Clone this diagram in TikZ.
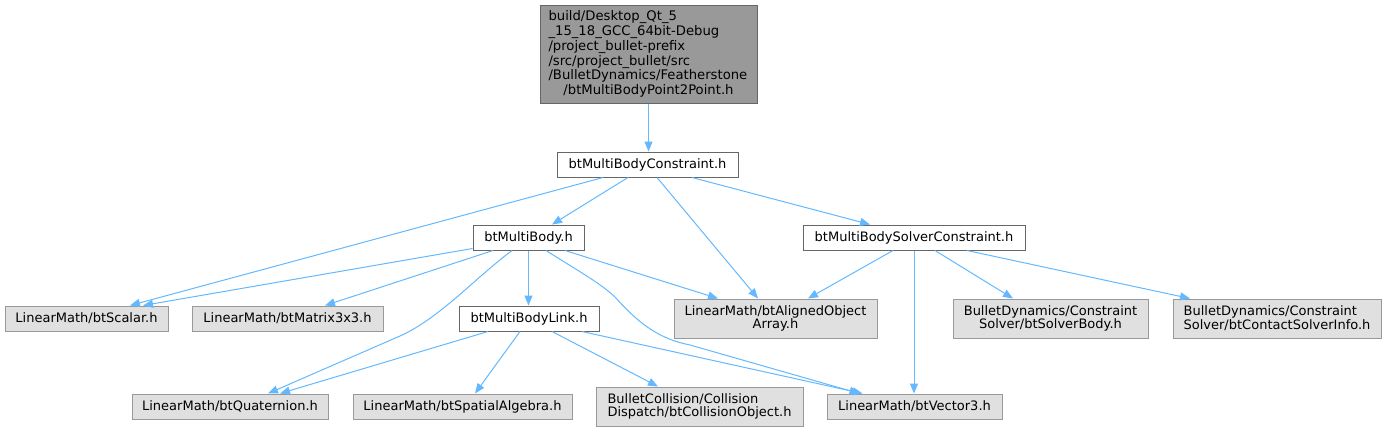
\documentclass[tikz,border=0pt]{standalone}
\usepackage{fontspec}
\setmainfont{DejaVu Sans}
\usetikzlibrary{arrows.meta,calc}
\definecolor{edgec}{HTML}{63B8FF}
\definecolor{gfill}{HTML}{E0E0E0}
\definecolor{gdraw}{HTML}{999999}
\definecolor{ddraw}{HTML}{666666}
\definecolor{tfill}{HTML}{999999}
\begin{document}
\begin{tikzpicture}[x=0.75pt,y=-0.75pt,
  font=\fontsize{9.75pt}{10.3pt}\selectfont,
  base/.style={draw, line width=0.75pt, inner sep=0pt, align=center, anchor=center},
  wbox/.style={base, draw=ddraw, fill=white},
  gbox/.style={base, draw=gdraw, fill=gfill},
  topbox/.style={base, draw=ddraw, fill=tfill},
  sz/.style 2 args={minimum width=#1*0.75pt, minimum height=#2*0.75pt},
  e/.style={draw=edgec, line width=0.75pt, -{Triangle[length=7.5pt,width=6pt]}}
]
\useasboundingbox (0,0) rectangle (1387,432);

\node[topbox, sz={217}{98}, text width=150pt, align=left,
      font=\fontsize{9.9pt}{11.1pt}\selectfont] (top) at (648.5,54)
  {build/Desktop\_Qt\_5\\ \_15\_18\_GCC\_64bit-Debug\\ /project\_bullet-prefix\\ /src/project\_bullet/src\\ /BulletDynamics/Featherstone\\ \makebox[150pt][c]{/btMultiBodyPoint2Point.h}};

\node[wbox, sz={181}{25}] (mbc) at (647.5,164.5) {btMultiBodyConstraint.h};
\node[wbox, sz={111}{25}] (mb) at (528.5,237.5) {btMultiBody.h};
\node[wbox, sz={222}{25}] (msc) at (914,237.5) {btMultiBodySolverConstraint.h};
\node[wbox, sz={140}{25}] (link) at (529,318.5) {btMultiBodyLink.h};

\node[gbox, sz={163}{25}] (scalar) at (86.5,318.5) {LinearMath/btScalar.h};
\node[gbox, sz={191}{25}] (matrix) at (287.5,318.5) {LinearMath/btMatrix3x3.h};
\node[gbox, sz={203}{39}] (aoa) at (775.5,318.5) {LinearMath/btAlignedObject\\Array.h};
\node[gbox, sz={195}{39}] (sbody) at (1050.5,318.5) {BulletDynamics/Constraint\\Solver/btSolverBody.h};
\node[gbox, sz={208}{39}, align=left] (csi) at (1277,318.5) {BulletDynamics/Constraint\\Solver/btContactSolverInfo.h};
\node[gbox, sz={196}{25}] (quat) at (230,406.5) {LinearMath/btQuaternion.h};
\node[gbox, sz={219}{25}] (spatial) at (462.5,406.5) {LinearMath/btSpatialAlgebra.h};
\node[gbox, sz={207}{39}, align=left] (colobj) at (699.5,406.5) {BulletCollision/Collision\\Dispatch/btCollisionObject.h};
\node[gbox, sz={175}{25}] (vec3) at (914.5,406.5) {LinearMath/btVector3.h};

\draw[e] (top.south) -- (top.south |- mbc.north);
\draw[e] ($(mbc.south)+(-44.5,0)$) -- ($(scalar.north)+(43.5,0)$);
\draw[e] ($(mbc.south)+(-19.5,0)$) -- ($(mb.north)+(23.5,0)$);
\draw[e] ($(mbc.south)+(9.5,0)$) -- ($(aoa.north)+(-17.5,0)$);
\draw[e] ($(mbc.south)+(44.5,0)$) -- ($(msc.north)+(-44,0)$);

\draw[e] ($(mb.south west)+(0,-2)$) -- ($(scalar.north)+(56.5,0)$);
\draw[e] ($(mb.south)+(-35.5,0)$) -- ($(matrix.north)+(37.5,0)$);
\draw[e] ($(mb.south)+(-16.5,0)$) .. controls (475,278) and (440,318) .. (400,336) -- ($(quat.north)+(38,0)$);
\draw[e] (mb.south) -- (mb.south |- link.north);
\draw[e] ($(mb.south)+(17.5,0)$) .. controls (580,272) and (600,283) .. (615,297)
   .. controls (640,325) and (660,339) .. (690,345) -- ($(vec3.north)+(-55,0)$);
\draw[e] ($(mb.south)+(36.5,0)$) -- ($(aoa.north)+(-57.5,0)$);

\draw[e] ($(msc.south)+(-21,0)$) -- ($(aoa.north)+(32.5,0)$);
\draw[e] (msc.south) -- (msc.south |- vec3.north);
\draw[e] ($(msc.south)+(21,0)$) -- ($(sbody.north)+(-37.5,0)$);
\draw[e] ($(msc.south)+(53,0)$) -- ($(csi.north)+(-87,0)$);

\draw[e] ($(link.south)+(-41,0)$) -- ($(quat.north)+(50,0)$);
\draw[e] ($(link.south)+(-9,0)$) -- ($(spatial.north)+(12.5,0)$);
\draw[e] ($(link.south)+(23,0)$) -- ($(colobj.north)+(-41.5,0)$);
\draw[e] ($(link.south)+(53,0)$) -- ($(vec3.north)+(-52,0)$);
\end{tikzpicture}
\end{document}
